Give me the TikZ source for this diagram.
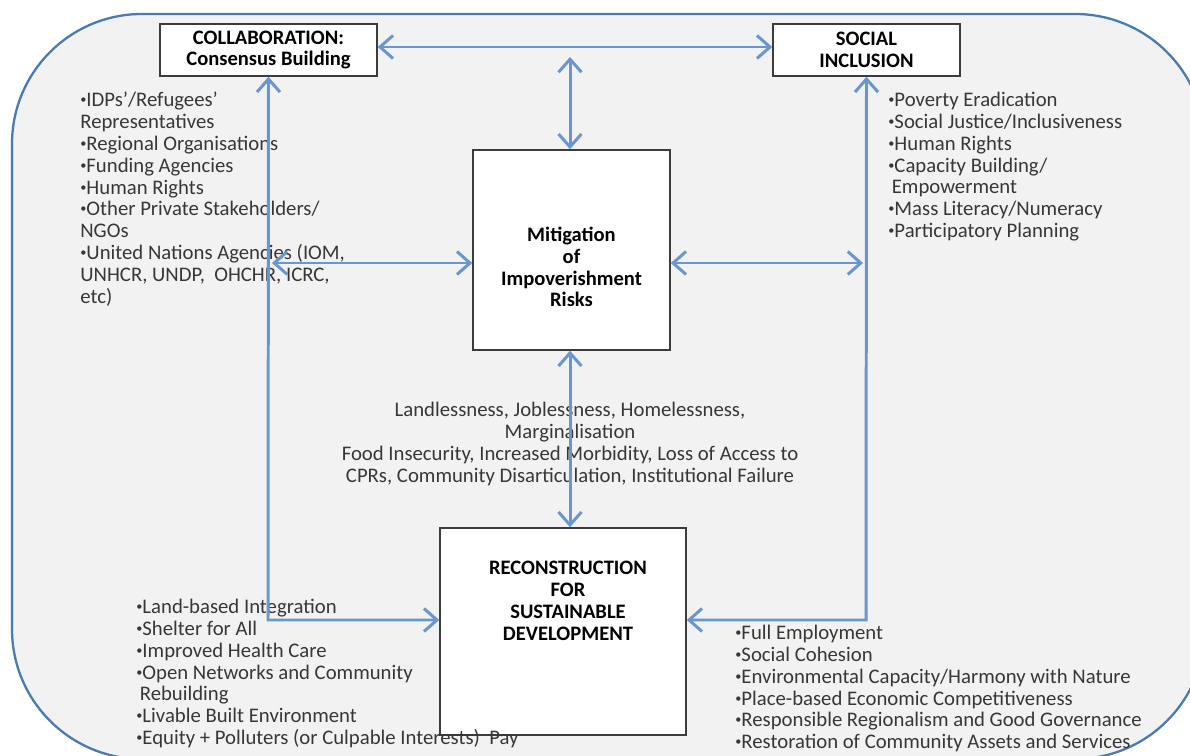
\documentclass[tikz,border=0pt]{standalone}
\usepackage{fontspec}
\setmainfont{Carlito}
\usetikzlibrary{arrows.meta,calc}

\definecolor{framecol}{RGB}{74,122,176}
\definecolor{arrowcol}{RGB}{104,150,205}
\definecolor{bgcol}{RGB}{242,242,242}
\definecolor{textcol}{RGB}{55,55,55}
\definecolor{boxcol}{RGB}{60,60,60}

\newcommand{\bul}{\raisebox{0.3ex}{\scriptsize\textbullet}}

\begin{document}
\begin{tikzpicture}[x=0.02cm, y=-0.02cm,
    box/.style={draw=boxcol, line width=0.9pt, fill=white, inner sep=0pt, align=center,
      font=\fontsize{11.7}{12.4}\selectfont\bfseries},
    boxlabel/.style={inner sep=0pt, align=center, font=\fontsize{11.7}{12.4}\selectfont\bfseries},
    listtext/.style={anchor=north west, inner sep=0pt, align=left, text=textcol,
      font=\fontsize{11.8}{12.4}\selectfont},
    biarrow/.style={draw=arrowcol, line width=1.7pt, {Straight Barb[length=2.6mm,width=4.6mm]}-{Straight Barb[length=2.6mm,width=4.6mm]}}]

    %----------------------------------------
    % page and outer frame (1 unit = 1 px)
    %----------------------------------------
    \clip (0,0) rectangle (1190,756);
    \draw[framecol, line width=1.3pt, fill=bgcol, rounded corners=2.6cm] (12,14) rectangle (1205,759);

    %----------------------------------------
    % boxes
    %----------------------------------------
    \node[box, minimum width=4.34cm, minimum height=1.04cm] (collab) at (268.5,50) {COLLABORATION:\\Consensus Building};
    \node[box, minimum width=3.74cm, minimum height=1.04cm] (social) at (866.5,50) {SOCIAL\\INCLUSION};
    \node[box, minimum width=3.94cm, minimum height=4cm] (mit) at (571.5,250) {};
    \node[boxlabel] (mitlabel) at (571.5,267) {Mitigation\\of\\Impoverishment\\Risks};
    \node[box, minimum width=4.92cm, minimum height=4.14cm] (recon) at (563,631.5) {};
    \node[boxlabel] (reclabel) at (568,601) {RECONSTRUCTION\\FOR\\SUSTAINABLE\\DEVELOPMENT};

    %----------------------------------------
    % lists
    %----------------------------------------
    \node[listtext] (actors) at (80,92) {\bul IDPs’/Refugees'\\Representatives\\\bul Regional Organisations\\\bul Funding Agencies\\\bul Human Rights\\\bul Other Private Stakeholders/\\NGOs\\\bul United Nations Agencies (IOM,\\UNHCR, UNDP,\ \ OHCHR, ICRC,\\etc)};
    \node[listtext] (inclusion) at (888,92) {\bul Poverty Eradication\\\bul Social Justice/Inclusiveness\\\bul Human Rights\\\bul Capacity Building/\\\hspace{2pt}Empowerment\\\bul Mass Literacy/Numeracy\\\bul Participatory Planning};
    \node[listtext, anchor=north, align=center] (risks) at (570,402) {Landlessness, Joblessness, Homelessness,\\Marginalisation\\Food Insecurity, Increased Morbidity, Loss of Access to\\CPRs, Community Disarticulation, Institutional Failure};
    \node[listtext] (physical) at (136,599) {\bul Land-based Integration\\\bul Shelter for All\\\bul Improved Health Care\\\bul Open Networks and Community\\\hspace{2pt}Rebuilding\\\bul Livable Built Environment\\\bul Equity + Polluters (or Culpable Interests)\ \ Pay};
    \node[listtext] (economic) at (735,625) {\bul Full Employment\\\bul Social Cohesion\\\bul Environmental Capacity/Harmony with Nature\\\bul Place-based Economic Competitiveness\\\bul Responsible Regionalism and Good Governance\\\bul Restoration of Community Assets and Services};

    %----------------------------------------
    % connectors
    %----------------------------------------
    \coordinate (topend) at (570,57);
    \coordinate (leftend) at (272,263);
    \coordinate (rightend) at (863,263);
    \coordinate (lbend) at (268,620);
    \coordinate (rbend) at (866,620);

    \draw[biarrow] ($(collab.east)+(0,-3)$) -- ($(social.west)+(0,-3)$);
    \draw[biarrow] (topend) -- (topend |- mit.north);
    \draw[biarrow] (leftend) -- (leftend -| mit.west);
    \draw[biarrow] (rightend -| mit.east) -- (rightend);
    \draw[biarrow] (topend |- mit.south) -- (topend |- recon.north);
    \draw[biarrow] (collab.south) -- (lbend) -- (lbend -| recon.west);
    \draw[biarrow] (social.south) -- (rbend) -- (rbend -| recon.east);

\end{tikzpicture}
\end{document}
